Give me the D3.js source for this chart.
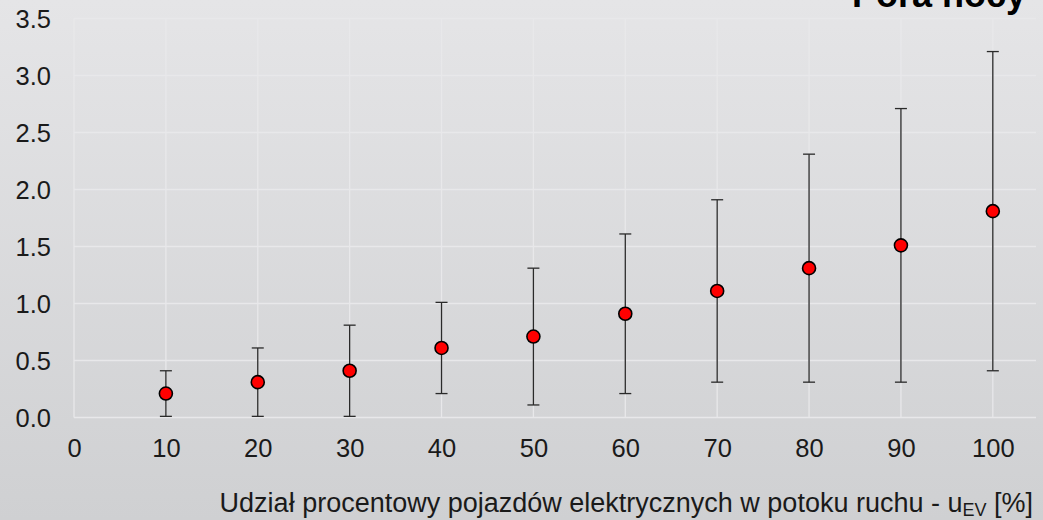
<!DOCTYPE html>
<html><head><meta charset="utf-8">
<script src="https://cdn.jsdelivr.net/npm/d3@7"></script>
<style>
html,body{margin:0;padding:0;overflow:hidden;}
svg{display:block;font-family:Arial,"Liberation Sans",sans-serif;}
</style></head>
<body>
<svg id="c" width="1043" height="520"></svg>
<script>
const categories = [10, 20, 30, 40, 50, 60, 70, 80, 90, 100];
const means = [0.21, 0.31, 0.41, 0.61, 0.71, 0.91, 1.11, 1.31, 1.51, 1.81];
const lows  = [0.01, 0.01, 0.01, 0.21, 0.11, 0.21, 0.31, 0.31, 0.31, 0.41];
const highs = [0.41, 0.61, 0.81, 1.01, 1.31, 1.61, 1.91, 2.31, 2.71, 3.21];
const xTicks = [0, 10, 20, 30, 40, 50, 60, 70, 80, 90, 100];
const yTicks = [0, 0.5, 1.0, 1.5, 2.0, 2.5, 3.0, 3.5];
const title = "Pora nocy";

const W = 1043, H = 520;
const FONT = "Arial, 'Liberation Sans', sans-serif";
const svg = d3.select("#c");
const defs = svg.append("defs");
const g0 = defs.append("linearGradient").attr("id","bg").attr("x1",0).attr("y1",0).attr("x2",0).attr("y2",1);
g0.append("stop").attr("offset","0%").attr("stop-color","#e5e5e7");
g0.append("stop").attr("offset","100%").attr("stop-color","#cfd0d2");
svg.append("rect").attr("width",W).attr("height",H).attr("fill","url(#bg)");

const x = d3.scaleLinear().domain([0, 104.7]).range([74, 1036]);
const y = d3.scaleLinear().domain([0, 3.5]).range([417.5, 18.5]);

// grid
const grid = svg.append("g");
grid.selectAll("line.v").data(xTicks).join("line")
  .attr("x1", d => x(d)).attr("x2", d => x(d))
  .attr("y1", y(3.5)).attr("y2", y(0))
  .attr("stroke", "#e8e8ea").attr("stroke-width", 1.3);
grid.selectAll("line.h").data(yTicks).join("line")
  .attr("x1", x(0)).attr("x2", x(104.7))
  .attr("y1", d => y(d)).attr("y2", d => y(d))
  .attr("stroke", "#e8e8ea").attr("stroke-width", 1.3);

// axes (labels only)
const fmtY = d3.format(".1f");
const yAxis = svg.append("g").attr("transform", `translate(${x(0)},0)`)
  .call(d3.axisLeft(y).tickValues(yTicks).tickFormat(fmtY).tickSize(0).tickPadding(23));
yAxis.select(".domain").remove();
yAxis.selectAll("text").attr("font-size", 25.5).attr("fill", "#1a1a1a")
  .attr("font-family", FONT).attr("dy","0.36em");

const xAxis = svg.append("g").attr("transform", `translate(0,${y(0)})`)
  .call(d3.axisBottom(x).tickValues(xTicks).tickFormat(d3.format("d")).tickSize(0).tickPadding(0));
xAxis.select(".domain").remove();
xAxis.selectAll("text").attr("font-size", 25.5).attr("fill", "#1a1a1a")
  .attr("font-family", FONT).attr("dy", null).attr("y", 39.5);

// error bars
const data = categories.map((c,i) => ({c, m: means[i], lo: lows[i], hi: highs[i]}));
const eb = svg.append("g").attr("stroke", "#2a2a2a").attr("stroke-width", 1.3);
eb.selectAll("line.s").data(data).join("line")
  .attr("x1", d => x(d.c)).attr("x2", d => x(d.c))
  .attr("y1", d => y(d.lo)).attr("y2", d => y(d.hi));
eb.selectAll("line.t").data(data).join("line")
  .attr("x1", d => x(d.c) - 6).attr("x2", d => x(d.c) + 6)
  .attr("y1", d => y(d.hi)).attr("y2", d => y(d.hi));
eb.selectAll("line.b").data(data).join("line")
  .attr("x1", d => x(d.c) - 6).attr("x2", d => x(d.c) + 6)
  .attr("y1", d => y(d.lo)).attr("y2", d => y(d.lo));

svg.append("g").selectAll("circle").data(data).join("circle")
  .attr("cx", d => x(d.c)).attr("cy", d => y(d.m)).attr("r", 6.5)
  .attr("fill", "#ff0000").attr("stroke", "#000").attr("stroke-width", 1.6);

// title
svg.append("text").attr("x", 1026).attr("y", 7).attr("text-anchor","end")
  .attr("font-size", 36).attr("font-weight","bold").attr("fill","#000")
  .attr("font-family", FONT).text(title);

// x axis title
const xt = svg.append("text").attr("x", 1033).attr("y", 512).attr("text-anchor","end")
  .attr("font-size", 27).attr("fill","#1a1a1a").attr("font-family", FONT);
xt.append("tspan").text("Udział procentowy pojazdów elektrycznych w potoku ruchu - u");
xt.append("tspan").attr("font-size", 18).attr("dy", 4).text("EV");
xt.append("tspan").attr("dy", -4).text(" [%]");
</script>
</body></html>
